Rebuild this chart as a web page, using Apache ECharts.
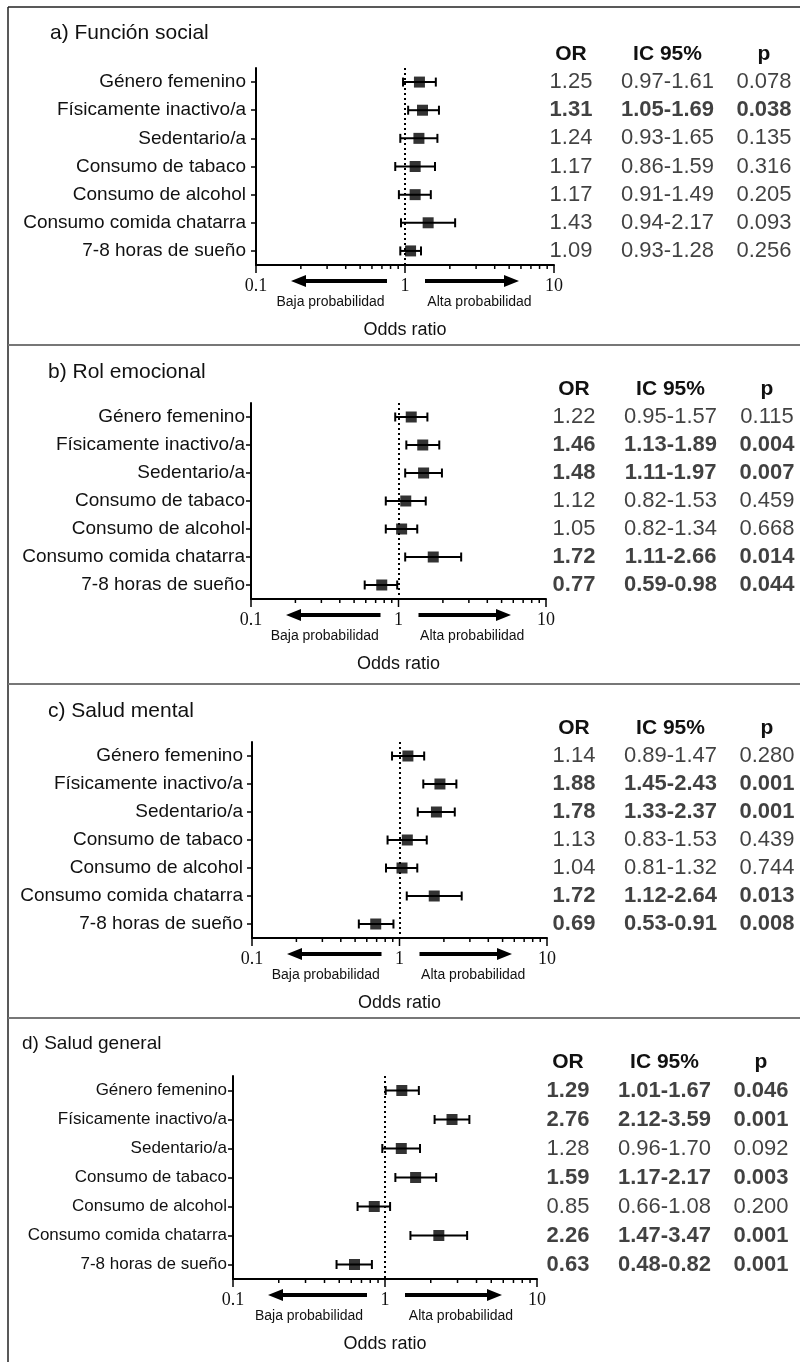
<!DOCTYPE html>
<html>
<head>
<meta charset="utf-8">
<script src="https://cdn.jsdelivr.net/npm/echarts@6/dist/echarts.min.js"></script>
<style>
  html, body { margin: 0; padding: 0; background: #fff; }
  #container { width: 800px; height: 1362px; }
</style>
</head>
<body>
<div id="container"></div>
<script>
  var factores = ['Género femenino', 'Físicamente inactivo/a', 'Sedentario/a', 'Consumo de tabaco',
      'Consumo de alcohol', 'Consumo comida chatarra', '7-8 horas de sueño'];
  var columnas = ['OR', 'IC 95%', 'p'];
  var ticksMayores = [0.1, 1, 10];
  var ticksMenores = [0.2, 0.3, 0.4, 0.5, 0.6, 0.7, 0.8, 0.9, 2, 3, 4, 5, 6, 7, 8, 9];

  // a) Funcion social
  var orA  = [1.25, 1.31, 1.24, 1.17, 1.17, 1.43, 1.09];
  var infA = [0.97, 1.05, 0.93, 0.86, 0.91, 0.94, 0.93];
  var supA = [1.61, 1.69, 1.65, 1.59, 1.49, 2.17, 1.28];
  var pA   = [0.078, 0.038, 0.135, 0.316, 0.205, 0.093, 0.256];

  // b) Rol emocional
  var orB  = [1.22, 1.46, 1.48, 1.12, 1.05, 1.72, 0.77];
  var infB = [0.95, 1.13, 1.11, 0.82, 0.82, 1.11, 0.59];
  var supB = [1.57, 1.89, 1.97, 1.53, 1.34, 2.66, 0.98];
  var pB   = [0.115, 0.004, 0.007, 0.459, 0.668, 0.014, 0.044];

  // c) Salud mental
  var orC  = [1.14, 1.88, 1.78, 1.13, 1.04, 1.72, 0.69];
  var infC = [0.89, 1.45, 1.33, 0.83, 0.81, 1.12, 0.53];
  var supC = [1.47, 2.43, 2.37, 1.53, 1.32, 2.64, 0.91];
  var pC   = [0.280, 0.001, 0.001, 0.439, 0.744, 0.013, 0.008];

  // d) Salud general
  var orD  = [1.29, 2.76, 1.28, 1.59, 0.85, 2.26, 0.63];
  var infD = [1.01, 2.12, 0.96, 1.17, 0.66, 1.47, 0.48];
  var supD = [1.67, 3.59, 1.70, 2.17, 1.08, 3.47, 0.82];
  var pD   = [0.046, 0.001, 0.092, 0.003, 0.200, 0.001, 0.001];

  var paneles = [
    { titulo: 'a) Función social', or: orA, inf: infA, sup: supA, p: pA,
      x: 256, y: 68, w: 298, h: 197, tx: 50, ty: 23, tfs: 21, lfs: 19, lm: 10, tabla: 571 },
    { titulo: 'b) Rol emocional', or: orB, inf: infB, sup: supB, p: pB,
      x: 251, y: 403, w: 295, h: 196, tx: 48, ty: 362, tfs: 21, lfs: 19, lm: 6, tabla: 574 },
    { titulo: 'c) Salud mental', or: orC, inf: infC, sup: supC, p: pC,
      x: 252, y: 742, w: 295, h: 196, tx: 48, ty: 701, tfs: 21, lfs: 19, lm: 9, tabla: 574 },
    { titulo: 'd) Salud general', or: orD, inf: infD, sup: supD, p: pD,
      x: 233, y: 1076, w: 304, h: 203, tx: 22, ty: 1034, tfs: 19, lfs: 17, lm: 6, tabla: 568 }
  ];

  var dom = document.getElementById('container');
  var myChart = echarts.init(dom, null, { renderer: 'canvas' });
  var negro = '#111';

  function barraError(params, api) {
    var a = api.coord([api.value(0), api.value(2)]);
    var b = api.coord([api.value(1), api.value(2)]);
    var c = 4.5;
    var st = { stroke: '#000', lineWidth: 2 };
    return {
      type: 'group',
      children: [
        { type: 'line', shape: { x1: a[0], y1: a[1], x2: b[0], y2: b[1] }, style: st },
        { type: 'line', shape: { x1: a[0], y1: a[1] - c, x2: a[0], y2: a[1] + c }, style: st },
        { type: 'line', shape: { x1: b[0], y1: b[1] - c, x2: b[0], y2: b[1] + c }, style: st }
      ]
    };
  }

  // marcas del eje x (mayores y menores) en la escala log
  function marcaEje(params, api) {
    var x = api.coord([api.value(0), api.value(1)])[0];
    var y0 = params.coordSys.y + params.coordSys.height;
    return {
      type: 'line',
      shape: { x1: x, y1: y0, x2: x, y2: y0 + api.value(2) },
      style: { stroke: '#000', lineWidth: 1.5 }
    };
  }

  var grid = [], xAxis = [], yAxis = [], series = [], title = [], graphic = [];

  paneles.forEach(function (pn, i) {
    var gChart = i * 2, gTabla = i * 2 + 1;
    grid.push({ left: pn.x, top: pn.y, width: pn.w, height: pn.h });
    grid.push({ left: pn.tabla, top: pn.y, width: 193, height: pn.h });

    var xi = xAxis.length;
    xAxis.push({
      type: 'log', logBase: 10, min: 0.1, max: 10, gridIndex: gChart,
      name: 'Odds ratio', nameLocation: 'middle', nameGap: 56,
      nameTextStyle: { fontSize: 18, color: negro, fontFamily: 'Liberation Sans' },
      axisLine: { show: true, onZero: false, lineStyle: { color: '#000', width: 2 } },
      axisTick: { show: false },
      axisLabel: { margin: 12, fontSize: 18, color: negro, fontFamily: 'Liberation Serif' },
      splitLine: { show: false }
    });
    // encabezados de la tabla
    xAxis.push({
      type: 'category', data: columnas, gridIndex: gTabla, position: 'top', boundaryGap: false,
      axisLine: { show: false }, axisTick: { show: false },
      axisLabel: { margin: 3, fontSize: 21, fontWeight: 'bold', color: negro, fontFamily: 'Liberation Sans' }
    });

    var yi = yAxis.length;
    yAxis.push({
      type: 'category', data: factores, inverse: true, gridIndex: gChart,
      axisLine: { show: true, onZero: false, lineStyle: { color: '#000', width: 2 } },
      axisTick: { show: true, alignWithLabel: true, length: 5, lineStyle: { color: '#000', width: 1.5 } },
      axisLabel: { fontSize: pn.lfs, color: negro, margin: pn.lm, fontFamily: 'Liberation Sans' }
    });
    yAxis.push({
      type: 'category', data: factores, inverse: true, gridIndex: gTabla, show: false
    });

    var barras = [], puntos = [], celdas = [], marcas = [];
    ticksMayores.forEach(function (v) { marcas.push([v, 0, 8]); });
    ticksMenores.forEach(function (v) { marcas.push([v, 0, 4]); });
    for (var r = 0; r < factores.length; r++) {
      barras.push([pn.inf[r], pn.sup[r], r]);
      puntos.push([pn.or[r], r]);
      var sig = pn.p[r] < 0.05 ? 'bold' : 'normal';
      var textos = [pn.or[r].toFixed(2), pn.inf[r].toFixed(2) + '-' + pn.sup[r].toFixed(2), pn.p[r].toFixed(3)];
      for (var c = 0; c < 3; c++) {
        celdas.push({ value: [c, r], label: { formatter: textos[c], fontWeight: sig } });
      }
    }

    series.push({
      type: 'custom', xAxisIndex: xi, yAxisIndex: yi, renderItem: marcaEje,
      encode: { x: 0, y: 1 }, data: marcas, silent: true, clip: false, z: 2
    });
    series.push({
      type: 'custom', xAxisIndex: xi, yAxisIndex: yi, renderItem: barraError,
      encode: { x: [0, 1], y: 2 }, data: barras, silent: true, z: 3
    });
    series.push({
      type: 'scatter', xAxisIndex: xi, yAxisIndex: yi, data: puntos,
      symbol: 'rect', symbolSize: 11, itemStyle: { color: '#000' }, silent: true, z: 4,
      markLine: {
        silent: true, symbol: 'none', label: { show: false },
        lineStyle: { color: '#000', type: [2, 3], width: 2 },
        data: [{ xAxis: 1 }]
      }
    });
    series.push({
      type: 'scatter', xAxisIndex: xi + 1, yAxisIndex: yi + 1, data: celdas,
      symbolSize: 1, itemStyle: { color: 'rgba(0,0,0,0)' }, silent: true,
      label: { show: true, position: 'inside', fontSize: 22, color: negro, fontFamily: 'Liberation Sans' }
    });

    title.push({
      text: pn.titulo, left: pn.tx, top: pn.ty, padding: 0,
      textStyle: { fontSize: pn.tfs, fontWeight: 'normal', color: negro, fontFamily: 'Liberation Sans' }
    });

    // flechas y leyendas bajo el eje
    var ay = pn.y + pn.h + 16;
    var medio = pn.x + pn.w / 2;
    var izq = pn.x + 35, der = pn.x + pn.w - 35;
    graphic.push({ type: 'line', shape: { x1: izq + 12, y1: ay, x2: medio - 18, y2: ay }, style: { stroke: '#000', lineWidth: 4 } });
    graphic.push({ type: 'polygon', shape: { points: [[izq, ay], [izq + 15, ay - 6], [izq + 15, ay + 6]] }, style: { fill: '#000' } });
    graphic.push({ type: 'line', shape: { x1: medio + 20, y1: ay, x2: der - 12, y2: ay }, style: { stroke: '#000', lineWidth: 4 } });
    graphic.push({ type: 'polygon', shape: { points: [[der, ay], [der - 15, ay - 6], [der - 15, ay + 6]] }, style: { fill: '#000' } });
    graphic.push({ type: 'text', x: pn.x + pn.w / 4, y: pn.y + pn.h + 37,
      style: { text: 'Baja probabilidad', fontSize: 14, fill: negro, align: 'center', verticalAlign: 'middle', fontFamily: 'Liberation Sans' } });
    graphic.push({ type: 'text', x: pn.x + pn.w * 3 / 4, y: pn.y + pn.h + 37,
      style: { text: 'Alta probabilidad', fontSize: 14, fill: negro, align: 'center', verticalAlign: 'middle', fontFamily: 'Liberation Sans' } });
  });

  // marcos
  graphic.push({ type: 'line', shape: { x1: 8, y1: 7, x2: 800, y2: 7 }, style: { stroke: '#222', lineWidth: 1.5 } });
  graphic.push({ type: 'line', shape: { x1: 8, y1: 7, x2: 8, y2: 1362 }, style: { stroke: '#222', lineWidth: 1.5 } });
  [345, 684, 1018].forEach(function (yy) {
    graphic.push({ type: 'line', shape: { x1: 8, y1: yy, x2: 800, y2: yy }, style: { stroke: '#777', lineWidth: 2 } });
  });

  var option = {
    animation: false,
    backgroundColor: '#fff',
    title: title,
    grid: grid,
    xAxis: xAxis,
    yAxis: yAxis,
    series: series,
    graphic: graphic
  };
  if (option && typeof option === 'object') {
    myChart.setOption(option, true);
  }
</script>
</body>
</html>
